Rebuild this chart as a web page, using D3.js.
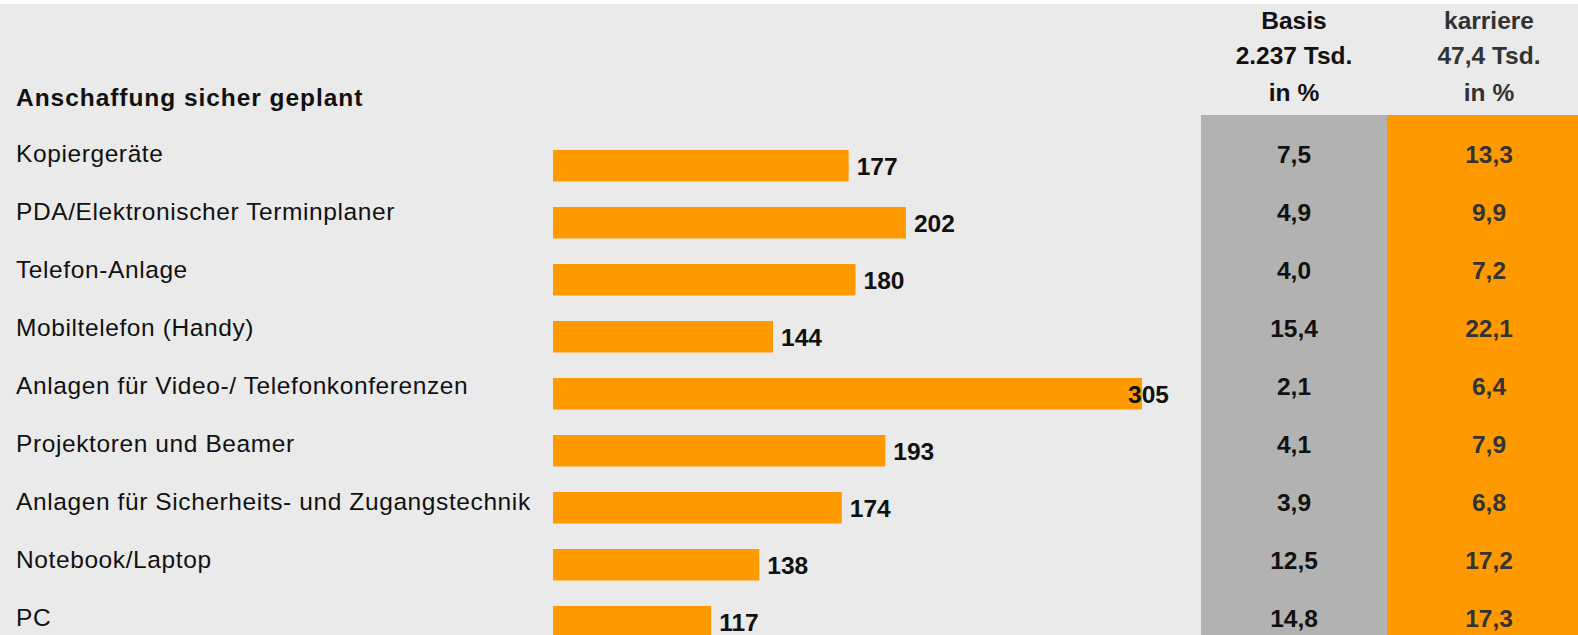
<!DOCTYPE html>
<html>
<head>
<meta charset="utf-8">
<script src="https://cdn.jsdelivr.net/npm/d3@7"></script>
<style>
  html, body { margin: 0; padding: 0; background: #ffffff; }
  svg { display: block; }
  text { font-family: "Liberation Sans", Arial, Helvetica, sans-serif; }
</style>
</head>
<body>
<svg id="chart" width="1578" height="635"></svg>
<script>
// ---- data ----
const title = "Anschaffung sicher geplant";
const categories = [
  "Kopiergeräte",
  "PDA/Elektronischer Terminplaner",
  "Telefon-Anlage",
  "Mobiltelefon (Handy)",
  "Anlagen für Video-/ Telefonkonferenzen",
  "Projektoren und Beamer",
  "Anlagen für Sicherheits- und Zugangstechnik",
  "Notebook/Laptop",
  "PC"
];
const indexValues = [177, 202, 180, 144, 305, 193, 174, 138, 117];
const basisValues = [7.5, 4.9, 4.0, 15.4, 2.1, 4.1, 3.9, 12.5, 14.8];
const karriereValues = [13.3, 9.9, 7.2, 22.1, 6.4, 7.9, 6.8, 17.2, 17.3];
const basisHeader = ["Basis", "2.237 Tsd.", "in %"];
const karriereHeader = ["karriere", "47,4 Tsd.", "in %"];

// ---- layout ----
const W = 1578, H = 635;
const svg = d3.select("#chart");
const de = d3.formatLocale({decimal: ",", thousands: ".", grouping: [3], currency: ["", " €"]});
const fmt = de.format(".1f");

svg.append("rect").attr("x", 0).attr("y", 4).attr("width", W).attr("height", H - 4).attr("fill", "#eaeaea");

const cols = [
  {x0: 1201, x1: 1387, fill: "#b2b2b2", color: "#111111", header: basisHeader, values: basisValues},
  {x0: 1387, x1: 1591, fill: "#ff9900", color: "#333333", header: karriereHeader, values: karriereValues}
];

// text rows (labels and table values)
const yText = d3.scaleBand().domain(categories).range([133, 133 + 58 * categories.length]).padding(0);
// bar rows
const yBar = d3.scaleBand().domain(categories).range([136, 136 + 57 * categories.length]).padding(0);
const x = d3.scaleLinear().domain([48, 305]).range([553, 1142]);

// table column backgrounds
cols.forEach(c => {
  svg.append("rect").attr("x", c.x0).attr("y", 115)
    .attr("width", Math.min(c.x1, W) - c.x0).attr("height", H - 115).attr("fill", c.fill);
});

// title
svg.append("text").attr("x", 16).attr("y", 106)
  .attr("font-size", 24.5).attr("font-weight", "bold").attr("letter-spacing", 0.95)
  .attr("fill", "#111").text(title);

// column headers
cols.forEach(c => {
  const cx = (c.x0 + c.x1) / 2;
  svg.append("g").selectAll("text").data(c.header).join("text")
    .attr("x", cx).attr("y", (d, i) => [28.5, 63.5, 100.5][i])
    .attr("text-anchor", "middle").attr("font-size", 24.5).attr("font-weight", "bold")
    .attr("fill", c.color).text(d => d);
});

// category labels
svg.append("g").selectAll("text").data(categories).join("text")
  .attr("x", 16).attr("y", d => yText(d) + 29.3)
  .attr("font-size", 24.5).attr("letter-spacing", 0.6)
  .attr("fill", "#111").text(d => d);

// bars
svg.append("g").selectAll("rect").data(categories).join("rect")
  .attr("x", x(48)).attr("y", d => yBar(d) + 14)
  .attr("width", (d, i) => x(indexValues[i]) - x(48)).attr("height", 31.5)
  .attr("fill", "#ff9900");

// bar value labels
const labelMaxX = 1128;
svg.append("g").selectAll("text").data(categories).join("text")
  .attr("x", (d, i) => Math.min(x(indexValues[i]) + 8, labelMaxX))
  .attr("y", d => yBar(d) + 39)
  .attr("font-size", 24.5).attr("font-weight", "bold").attr("fill", "#111")
  .text((d, i) => indexValues[i]);

// table values
cols.forEach(c => {
  const cx = (c.x0 + c.x1) / 2;
  svg.append("g").selectAll("text").data(categories).join("text")
    .attr("x", cx).attr("y", d => yText(d) + 29.7)
    .attr("text-anchor", "middle").attr("font-size", 24.5).attr("font-weight", "bold")
    .attr("fill", c.color).text((d, i) => fmt(c.values[i]));
});
</script>
</body>
</html>
